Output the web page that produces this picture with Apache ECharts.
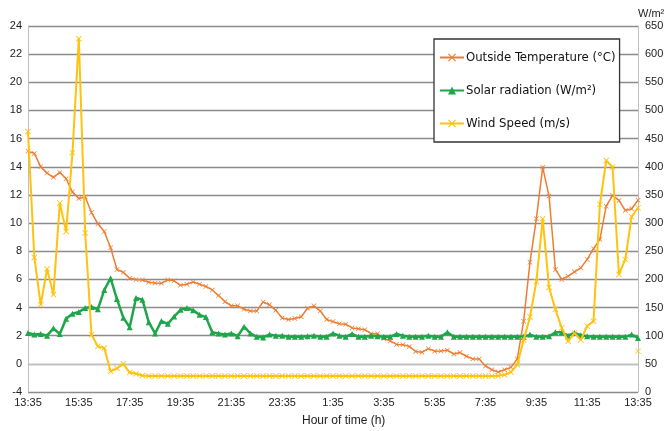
<!DOCTYPE html>
<html>
<head>
<meta charset="utf-8">
<script src="https://cdn.jsdelivr.net/npm/echarts@6/dist/echarts.min.js"></script>
<style>
html,body{margin:0;padding:0;background:#fff;}
#chart{width:668px;height:431px;}
</style>
</head>
<body>
<div id="chart"></div>
<script>
const categories = [
'13:35','13:50','14:05','14:20','14:35','14:50','15:05','15:20',
'15:35','15:50','16:05','16:20','16:35','16:50','17:05','17:20',
'17:35','17:50','18:05','18:20','18:35','18:50','19:05','19:20',
'19:35','19:50','20:05','20:20','20:35','20:50','21:05','21:20',
'21:35','21:50','22:05','22:20','22:35','22:50','23:05','23:20',
'23:35','23:50','0:05','0:20','0:35','0:50','1:05','1:20',
'1:35','1:50','2:05','2:20','2:35','2:50','3:05','3:20',
'3:35','3:50','4:05','4:20','4:35','4:50','5:05','5:20',
'5:35','5:50','6:05','6:20','6:35','6:50','7:05','7:20',
'7:35','7:50','8:05','8:20','8:35','8:50','9:05','9:20',
'9:35','9:50','10:05','10:20','10:35','10:50','11:05','11:20',
'11:35','11:50','12:05','12:20','12:35','12:50','13:05','13:20',
'13:35'
];

// Outside temperature (°C) – left axis
const temperature = [
15.1,14.95,14.0,13.55,13.25,13.6,13.15,12.2,
11.75,11.85,10.75,9.95,9.4,8.25,6.7,6.5,
6.08,6.0,5.95,5.8,5.75,5.72,5.97,5.9,
5.58,5.65,5.82,5.65,5.5,5.25,4.85,4.42,
4.12,4.12,3.88,3.75,3.75,4.4,4.2,3.8,
3.25,3.15,3.22,3.35,3.95,4.12,3.75,3.15,
3.0,2.85,2.82,2.55,2.5,2.43,2.14,2.14,
1.8,1.63,1.38,1.35,1.24,0.88,0.82,1.08,
0.9,0.92,0.97,0.7,0.8,0.54,0.35,0.34,
-0.15,-0.42,-0.58,-0.42,-0.25,0.35,3.02,7.22,
10.3,13.97,11.92,6.71,6.0,6.23,6.54,6.82,
7.42,8.18,8.84,11.2,11.97,11.61,10.9,11.02,
11.63
];

// Solar radiation (W/m2) – right axis
const solar = [
105,102,103,100,113,103,130,139,
142,149,151,147,181,202,165,132,
115,167,164,124,104,126,121,134,
146,149,145,137,133,106,104,102,
104,99,116,104,98,97,102,100,
100,98,98,98,99,100,98,98,
104,100,98,103,98,98,100,99,
98,98,103,100,98,98,98,100,
98,98,106,98,98,98,98,98,
98,98,98,98,98,98,98,102,
98,98,99,106,106,100,105,101,
99,98,98,98,98,98,98,102,
96
];

// Wind speed (m/s) – left axis
const wind = [
16.5,7.56,4.2,6.74,4.92,11.42,9.41,15.0,
23.1,9.3,2.07,1.24,1.12,-0.53,-0.32,0.0,
-0.62,-0.71,-0.83,-0.86,-0.86,-0.86,-0.86,-0.86,
-0.86,-0.86,-0.86,-0.86,-0.86,-0.86,-0.86,-0.86,
-0.86,-0.86,-0.86,-0.86,-0.86,-0.86,-0.86,-0.86,
-0.86,-0.86,-0.86,-0.86,-0.86,-0.86,-0.86,-0.86,
-0.86,-0.86,-0.86,-0.86,-0.86,-0.86,-0.86,-0.86,
-0.86,-0.86,-0.86,-0.86,-0.86,-0.86,-0.86,-0.86,
-0.86,-0.86,-0.86,-0.86,-0.86,-0.86,-0.86,-0.86,
-0.86,-0.86,-0.85,-0.78,-0.59,-0.06,1.7,3.33,
5.85,10.3,5.43,3.87,2.55,1.6,2.19,1.7,
2.69,3.02,11.32,14.45,13.98,6.35,7.42,10.45,
11.09
];
// lone wind marker at the last time stamp
const windExtra = [0.9];

const leftTicks = {'-2':'-4'};

const xShape = 'path://M0,1L1,0L5,4L9,0L10,1L6,5L10,9L9,10L5,6L1,10L0,9L4,5Z';
const FONT = 'Liberation Sans';

const chart = echarts.init(document.getElementById('chart'), null, {renderer:'canvas'});
chart.setOption({
  animation:false,
  backgroundColor:'#fff',
  grid:{left:28,right:30,top:26,bottom:39,containLabel:false},
  legend:{
    orient:'vertical',
    left:434, top:39,
    padding:[12,4,12,5],
    itemGap:20,
    itemWidth:24, itemHeight:10,
    itemStyle:{},
    backgroundColor:'#fff',
    borderColor:'#333', borderWidth:1.3,
    textStyle:{fontFamily:"'DejaVu Sans Condensed', 'Liberation Sans'", fontSize:13, color:'#111', padding:[0,0,0,-3]},
    data:['Outside Temperature (°C)','Solar radiation (W/m²)','Wind Speed (m/s)']
  },
  xAxis:{
    type:'category',
    data:categories,
    boundaryGap:false,
    axisLine:{lineStyle:{color:'#bfbfbf',width:1}},
    axisTick:{show:false},
    axisLabel:{interval:7,color:'#222',fontFamily:FONT,fontSize:11,margin:5,showMaxLabel:true}
  },
  yAxis:[
    {
      type:'value',min:-2,max:24,interval:2,
      axisLine:{show:true,lineStyle:{color:'#bfbfbf'}},
      axisTick:{show:false},
      splitLine:{lineStyle:{color:'#8c8c8c',width:1.4}},
      axisLabel:{color:'#222',fontFamily:FONT,fontSize:11,margin:6,
        formatter:v => (leftTicks[String(v)] !== undefined ? leftTicks[String(v)] : String(v))}
    },
    {
      type:'value',min:0,max:650,interval:50,position:'right',
      name:'W/m²',nameLocation:'end',nameGap:7,
      nameTextStyle:{color:'#222',fontFamily:FONT,fontSize:11,align:'left',padding:[0,0,0,0]},
      axisLine:{show:true,lineStyle:{color:'#bfbfbf'}},
      axisTick:{show:false},
      splitLine:{show:false},
      axisLabel:{color:'#222',fontFamily:FONT,fontSize:11,margin:7}
    }
  ],
  graphic:[{
    type:'text',left:302,top:415,
    style:{text:'Hour of time (h)',fill:'#222',font:'12px '+FONT}
  }],
  series:[
    {
      name:'Outside Temperature (°C)',type:'line',yAxisIndex:0,data:temperature,
      symbol:xShape,symbolSize:5,showAllSymbol:true,
      lineStyle:{color:'#ED7D31',width:1.5},
      itemStyle:{color:'#ED7D31'},
      z:3
    },
    {
      name:'Solar radiation (W/m²)',type:'line',yAxisIndex:1,data:solar,
      symbol:'triangle',symbolSize:6,showAllSymbol:true,
      lineStyle:{color:'#1FA64A',width:2.5},
      itemStyle:{color:'#1FA64A'},
      z:4
    },
    {
      name:'Wind Speed (m/s)',type:'line',yAxisIndex:0,data:wind,
      symbol:xShape,symbolSize:6,showAllSymbol:true,
      lineStyle:{color:'#FFC20E',width:2},
      itemStyle:{color:'#FFC20E'},
      z:5
    },
    {
      name:'wind-extra',type:'scatter',yAxisIndex:0,
      data:windExtra.map(v => [categories.length-1, v]),
      symbol:xShape,symbolSize:6,
      itemStyle:{color:'#FFC20E'},
      z:5
    }
  ]
});
</script>
</body>
</html>
